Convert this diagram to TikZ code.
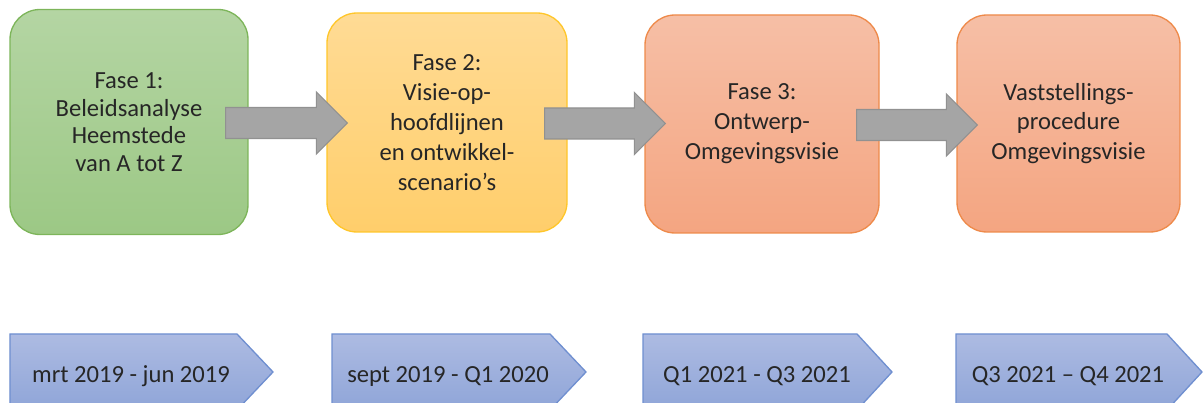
\documentclass[tikz,border=0pt]{standalone}
\usepackage{fontspec}
\setmainfont{Carlito}
\usepackage{tikz}
\usetikzlibrary{calc,positioning}
\usepackage{xcolor}

\definecolor{groenBoven}{HTML}{B4D5A3}
\definecolor{groenOnder}{HTML}{9CC885}
\definecolor{groenRand}{HTML}{7DB55A}
\definecolor{geelBoven}{HTML}{FFDB95}
\definecolor{geelOnder}{HTML}{FFCE6B}
\definecolor{geelRand}{HTML}{FFC62A}
\definecolor{oranjeBoven}{HTML}{F6BFA6}
\definecolor{oranjeOnder}{HTML}{F4A581}
\definecolor{oranjeRand}{HTML}{EE8A4A}
\definecolor{blauwBoven}{HTML}{ADBBE2}
\definecolor{blauwOnder}{HTML}{8FA5D8}
\definecolor{blauwRand}{HTML}{6F8FD0}
\definecolor{pijlGrijs}{HTML}{A5A5A5}
\definecolor{pijlRand}{HTML}{919191}
\definecolor{tekst}{HTML}{262626}

\begin{document}
\begin{tikzpicture}[
  fase/.style={rounded corners=0.6cm, line width=0.75pt, align=center,
    text=tekst, inner sep=0pt, font=\fontsize{14}{17}\selectfont},
  groen/.style={fase, draw=groenRand, top color=groenBoven, bottom color=groenOnder},
  geel/.style={fase, draw=geelRand, top color=geelBoven, bottom color=geelOnder},
  oranje/.style={fase, draw=oranjeRand, top color=oranjeBoven, bottom color=oranjeOnder},
  pijl/.style={fill=pijlGrijs, draw=pijlRand, line width=0.6pt},
  periode/.style={draw=blauwRand, top color=blauwBoven, bottom color=blauwOnder, line width=0.75pt},
  datum/.style={anchor=base, text=tekst, font=\fontsize{14}{17}\selectfont},
]
\useasboundingbox (0,0) rectangle (24.06,8.06);
\clip (0,0) rectangle (24.06,8.06);

% --- fases ---
\node[groen, minimum width=4.76cm, minimum height=4.50cm,
  font=\fontsize{14}{15.7}\selectfont] (fase1) at (2.58,5.62)
  {Fase 1:\\Beleidsanalyse\\Heemstede\\van A tot Z};
\node[geel, minimum width=4.80cm, minimum height=4.38cm] (fase2) at (8.94,5.61)
  {Fase 2:\\Visie-op-\\hoofdlijnen\\en ontwikkel-\\scenario’s};
\node[oranje, minimum width=4.68cm, minimum height=4.36cm] (fase3) at (15.24,5.58)
  {Fase 3:\\Ontwerp-\\Omgevingsvisie};
\node[oranje, minimum width=4.46cm, minimum height=4.34cm] (fase4) at (21.37,5.59)
  {Vaststellings-\\procedure\\Omgevingsvisie};

% --- pijlen tussen de fases ---
\foreach \van/\naar in {fase1/fase2, fase2/fase3, fase3/fase4}{
  \coordinate (s) at ($(\van.east)+(-0.46,-0.02)$);
  \coordinate (e) at ($(\naar.west)+(0.42,0)$);
  \draw[pijl] ($(s)+(0,0.31)$) -- ($(e |- s)+(-0.62,0.31)$) -- ($(e |- s)+(-0.62,0.62)$)
    -- (e |- s) -- ($(e |- s)+(-0.62,-0.62)$) -- ($(e |- s)+(-0.62,-0.31)$)
    -- ($(s)+(0,-0.31)$) -- cycle;
}

% --- periodes ---
\foreach \i/\links/\recht/\punt/\midden/\tekst in {
  1/0.20/4.74/5.46/2.62/{mrt 2019 - jun 2019},
  2/6.64/11.00/11.72/8.96/{sept 2019 - Q1 2020},
  3/12.86/17.14/17.84/15.14/{Q1 2021 - Q3 2021},
  4/19.12/23.34/24.04/21.36/{Q3 2021 – Q4 2021}}{
  \draw[periode] (\links,1.38) -- (\recht,1.38) -- (\punt,0.62)
    -- (\recht,-0.14) -- (\links,-0.14) -- cycle;
  \node[datum] (periode\i) at (\midden,0.40) {\tekst};
}
\end{tikzpicture}
\end{document}
